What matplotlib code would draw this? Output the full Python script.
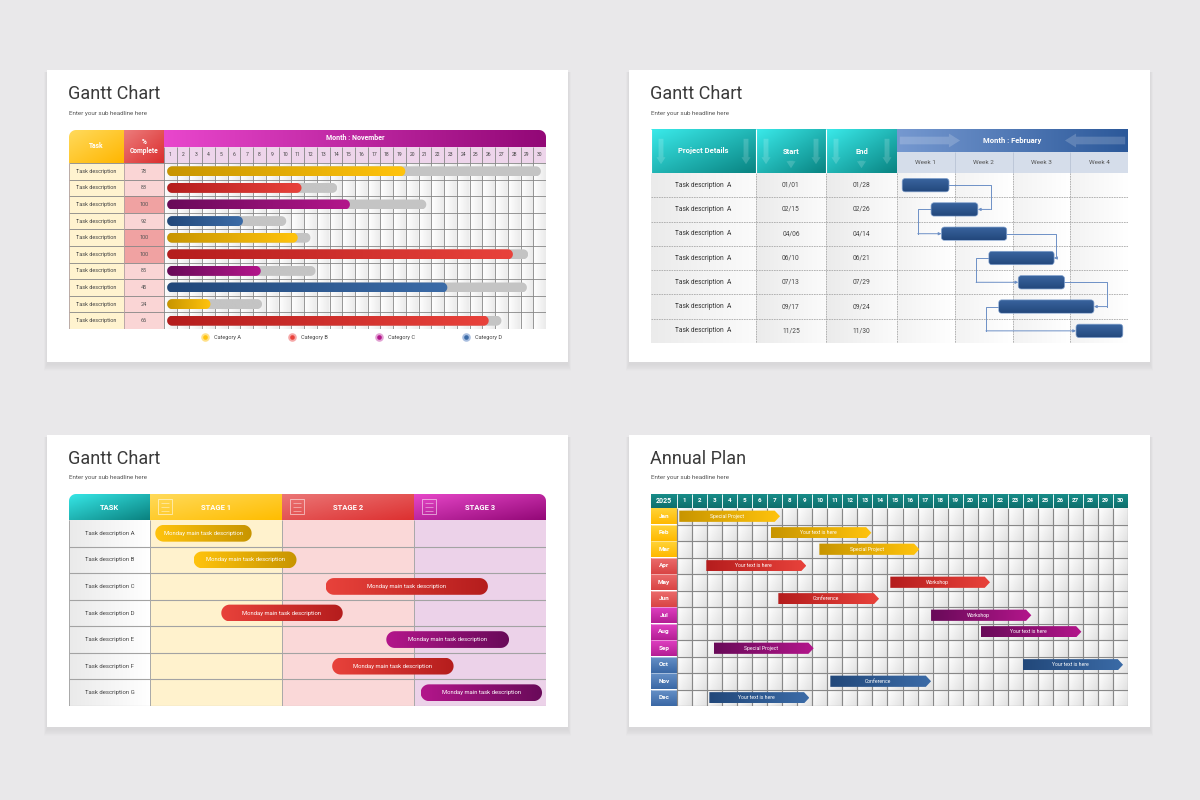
import numpy as np
import matplotlib.pyplot as plt
from matplotlib.colors import LinearSegmentedColormap
from matplotlib.patches import Polygon, Rectangle

plt.rcParams['font.family'] = ['Roboto', 'DejaVu Sans']

W, H = 1200, 800

titles = ['Gantt Chart', 'Gantt Chart', 'Gantt Chart', 'Annual Plan']
subtitle = 'Enter your sub headline here'

# panel 1 : november, % complete
p1_tasks = ['Task description'] * 10
p1_complete = [78, 83, 100, 92, 100, 100, 85, 45, 24, 66]
p1_cat = ['gold', 'red', 'purple', 'blue', 'gold', 'red', 'purple', 'blue', 'gold', 'red']
p1_start = [0.25] * 10
p1_done = [18.95, 10.8, 14.6, 6.2, 10.5, 27.4, 7.6, 22.25, 3.65, 25.5]
p1_end = [29.6, 13.6, 20.6, 9.6, 11.5, 28.6, 11.9, 28.5, 7.7, 26.5]
p1_days = list(range(1, 31))
p1_month = 'Month : November'
legend_names = ['Category A', 'Category B', 'Category C', 'Category D']
legend_cat = ['gold', 'red', 'purple', 'blue']

# panel 2 : february, weeks
p2_tasks = ['Task description  A'] * 7
p2_start_lbl = ['01/01', '02/15', '04/06', '06/10', '07/13', '09/17', '11/25']
p2_end_lbl = ['01/28', '02/26', '04/14', '06/21', '07/29', '09/24', '11/30']
p2_heads = ['Project Details', 'Start', 'End']
p2_weeks = ['Week 1', 'Week 2', 'Week 3', 'Week 4']
p2_month = 'Month : February'
p2_bar_start = [0.09, 0.59, 0.77, 1.59, 2.10, 1.76, 3.10]
p2_bar_end = [0.90, 1.40, 1.90, 2.72, 2.90, 3.41, 3.91]
p2_link_x = [1.62, 0.36, 2.75, 1.37, 3.64, 1.54]

# panel 3 : stages
p3_tasks = ['Task description ' + c for c in 'ABCDEFG']
p3_stages = ['STAGE 1', 'STAGE 2', 'STAGE 3']
p3_start = [0.04, 0.33, 1.33, 0.54, 1.79, 1.38, 2.05]
p3_end = [0.77, 1.11, 2.56, 1.46, 2.72, 2.30, 2.97]
p3_cat = ['gold', 'gold', 'red', 'red', 'purple', 'red', 'purple']
p3_label = 'Monday main task description'

# panel 4 : annual plan
p4_year = '2025'
p4_months = ['Jan', 'Feb', 'Mar', 'Apr', 'May', 'Jun', 'Jul', 'Aug', 'Sep', 'Oct', 'Nov', 'Dec']
p4_group = ['gold'] * 3 + ['red'] * 3 + ['purple'] * 3 + ['blue'] * 3
p4_start = [0.15, 6.25, 9.47, 1.95, 14.19, 6.74, 16.90, 20.22, 2.44, 22.99, 10.20, 2.15]
p4_end = [6.85, 12.93, 16.12, 8.60, 20.82, 13.44, 23.57, 26.90, 9.09, 29.67, 16.90, 8.80]
p4_text = ['Special Project', 'Your text is here', 'Special Project', 'Your text is here',
           'Workshop', 'Conference', 'Workshop', 'Your text is here', 'Special Project',
           'Your text is here', 'Conference', 'Your text is here']

# colours (dark, bright)
BAR = {'gold': ('#c89500', '#ffc30d'), 'red': ('#b51d1d', '#e8423b'),
       'purple': ('#690a59', '#b3168b'), 'blue': ('#22487a', '#3b6ba7')}
LIGHT = {'gold': '#ffe18a', 'red': '#f6a8a8', 'purple': '#e2a2d3', 'blue': '#aabfe0'}
CELL = {'gold': ('#ffd53c', '#ffb900'), 'red': ('#ec6e6e', '#d94444'),
        'purple': ('#e242c4', '#b41e94'), 'blue': ('#6892c9', '#3a68a5')}

fig = plt.figure(figsize=(12, 8), dpi=100)
fig.patch.set_facecolor('#e9e8ea')
bg = fig.add_axes([0, 0, 1, 1], zorder=0)
bg.set_xlim(0, W)
bg.set_ylim(H, 0)
bg.axis('off')


def px_axes(x0, y0, x1, y1):
    ax = fig.add_axes([x0 / W, 1 - y1 / H, (x1 - x0) / W, (y1 - y0) / H], zorder=1)
    ax.axis('off')
    return ax


def table_axes(left, top, right, bottom, x0px, y0px, nx, ny):
    ax = px_axes(left, top, right, bottom)
    ux = (right - x0px) / nx
    uy = (bottom - y0px) / ny
    ax.set_xlim((left - x0px) / ux, nx)
    ax.set_ylim(ny, (top - y0px) / uy)
    fx = lambda p: (p - x0px) / ux
    fy = lambda p: (p - y0px) / uy
    return ax, ux, uy, fx, fy


def rbox(x0, y0, x1, y1, rx=0, ry=0, corners=('tl', 'tr', 'br', 'bl')):
    rx = min(rx, (x1 - x0) / 2)
    ry = min(ry, (y1 - y0) / 2)
    t = np.linspace(0, np.pi / 2, 10)
    pts = []
    if 'tl' in corners and rx > 0:
        pts += list(zip(x0 + rx - rx * np.cos(t), y0 + ry - ry * np.sin(t)))
    else:
        pts.append((x0, y0))
    if 'tr' in corners and rx > 0:
        pts += list(zip(x1 - rx + rx * np.sin(t), y0 + ry - ry * np.cos(t)))
    else:
        pts.append((x1, y0))
    if 'br' in corners and rx > 0:
        pts += list(zip(x1 - rx + rx * np.cos(t), y1 - ry + ry * np.sin(t)))
    else:
        pts.append((x1, y1))
    if 'bl' in corners and rx > 0:
        pts += list(zip(x0 + rx - rx * np.sin(t), y1 - ry + ry * np.cos(t)))
    else:
        pts.append((x0, y1))
    return Polygon(pts, closed=True)


def gfill(ax, patch, c1, c2, x0, x1, y0, y1, mode='h', z=2):
    patch.set_facecolor('none')
    patch.set_edgecolor('none')
    patch.set_zorder(z)
    ax.add_patch(patch)
    cmap = LinearSegmentedColormap.from_list('g', [c1, c2])
    n = np.linspace(0, 1, 64)
    if mode == 'h':
        arr = n.reshape(1, -1)
    elif mode == 'v':
        arr = n.reshape(-1, 1)
    else:
        arr = (n.reshape(1, -1) + n.reshape(-1, 1)) / 2
    im = ax.imshow(arr, cmap=cmap, extent=(x0, x1, y1, y0), aspect='auto',
                   zorder=z, interpolation='bilinear')
    im.set_clip_path(patch)
    return im


def pill(ax, x0, x1, yc, h, ux, uy, c1, c2, z=3):
    r = h * uy / 2
    p = rbox(x0, yc - h / 2, x1, yc + h / 2, r / ux, h / 2)
    gfill(ax, p, c1, c2, x0, x1, yc - h / 2, yc + h / 2, z=z)


def hline(ax, y, xa, xb, **kw):
    ax.plot([xa, xb], [y, y], solid_capstyle='butt', **kw)


def vline(ax, x, ya, yb, **kw):
    ax.plot([x, x], [ya, yb], solid_capstyle='butt', **kw)


# cards with a soft shadow below
cards = [(47, 70, 568, 362), (629, 70, 1150, 362), (47, 435, 568, 727), (629, 435, 1150, 727)]
for (x0, y0, x1, y1), t in zip(cards, titles):
    for k in range(1, 9):
        bg.add_patch(Rectangle((x0 - k * 0.4, y0 + 2), x1 - x0 + k * 0.8, y1 - y0 + k * 0.9,
                               fc='black', alpha=0.008, lw=0))
    bg.add_patch(Rectangle((x0, y0), x1 - x0, y1 - y0, fc='white', lw=0))
    bg.text(x0 + 21, y0 + 24, t, fontsize=13, color='#3a3a3a', va='center', ha='left')
    bg.text(x0 + 22, y0 + 43, subtitle, fontsize=4.5, color='#555555', va='center', ha='left')

# ---------------- panel 1 ----------------
ax, ux, uy, fx, fy = table_axes(69, 130, 546, 329, 164, 163, 30, 10)
nrow = len(p1_tasks)
ytop, ymid = fy(130), fy(147)
xl, xm = fx(69), fx(124)
gfill(ax, rbox(xl, ytop, xm, 0, 7 / ux, 7 / uy, ('tl',)), '#ffda5c', '#ffb600', xl, xm, ytop, 0, 'd')
gfill(ax, rbox(xm, ytop, 0, 0), '#ec7c7c', '#db2e2e', xm, 0, ytop, 0, 'd')
gfill(ax, rbox(0, ytop, 30, ymid, 7 / ux, 7 / uy, ('tr',)), '#e846cc', '#930877', 0, 30, ytop, ymid)
ax.add_patch(Rectangle((0, ymid), 30, -ymid, fc='#eed5eb', lw=0, zorder=2))
ax.text((xl + xm) / 2, ytop / 2, 'Task', color='white', fontsize=4.8, fontweight='bold',
        ha='center', va='center', zorder=5)
ax.text(xm / 2, ytop / 2, '%\nComplete', color='white', fontsize=4.8, fontweight='bold',
        ha='center', va='center', linespacing=1.2, zorder=5)
ax.text(15, (ytop + ymid) / 2, p1_month, color='white', fontsize=5, fontweight='bold',
        ha='center', va='center', zorder=5)
for d in p1_days:
    ax.text(d - 0.5, ymid / 2, str(d), color='#444444', fontsize=3.6, ha='center', va='center', zorder=5)

ax.add_patch(Rectangle((xl, 0), xm - xl, nrow, fc='#fff3cf', lw=0, zorder=1))
shade = np.tile(np.linspace(0, 1, 16), 30).reshape(1, -1)
ax.imshow(shade, cmap=LinearSegmentedColormap.from_list('s', ['#ffffff', '#ebebeb']),
          extent=(0, 30, nrow, 0), aspect='auto', zorder=1)
for i, (task, pc) in enumerate(zip(p1_tasks, p1_complete)):
    ax.add_patch(Rectangle((xm, i), -xm, 1, fc='#f0a2a2' if pc == 100 else '#fad5d5', lw=0, zorder=1))
    ax.text((xl + xm) / 2, i + 0.5, task, fontsize=4, color='#444444', ha='center', va='center', zorder=5)
    ax.text(xm / 2, i + 0.5, str(pc), fontsize=4, color='#555555', ha='center', va='center', zorder=5)
for d in range(31):
    vline(ax, d, ymid, nrow, color='#868686', lw=0.6, zorder=2)
for r in range(nrow + 1):
    hline(ax, r, xl, 30, color='#868686', lw=0.6, zorder=2)
for x in (xl, xm):
    vline(ax, x, 0, nrow, color='#b0a0a0', lw=0.6, zorder=2)
for i in range(nrow):
    pill(ax, p1_start[i], p1_end[i], i + 0.5, 0.6, ux, uy, '#c4c4c4', '#c4c4c4', z=3)
    c1, c2 = BAR[p1_cat[i]]
    pill(ax, p1_start[i], p1_done[i], i + 0.5, 0.6, ux, uy, c1, c2, z=4)
for k, (name, c) in enumerate(zip(legend_names, legend_cat)):
    lx, ly = fx(205 + 87 * k), fy(337)
    ax.scatter([lx], [ly], s=38, color=LIGHT[c], lw=0, clip_on=False, zorder=5)
    ax.scatter([lx], [ly], s=11, color=BAR[c][1], lw=0, clip_on=False, zorder=6)
    ax.text(lx + 9 / ux, ly, name, fontsize=4, color='#444444', va='center', ha='left', clip_on=False)

# ---------------- panel 2 ----------------
ax, ux, uy, fx, fy = table_axes(651, 129, 1128, 343, 897, 173, 4, 7)
nrow = len(p2_tasks)
ytop, ymid = fy(129), fy(152)
cols = [fx(651), fx(756), fx(826), 0]
arrow_small = dict(arrowstyle='simple,head_width=0.65,head_length=0.5,tail_width=0.35',
                   fc='white', ec='none', alpha=0.17)
for k, head in enumerate(p2_heads):
    a, b = cols[k], cols[k + 1]
    gfill(ax, rbox(a, ytop, b, 0), '#3aeaea', '#098381', a, b, ytop, 0, 'd')
    for xa in (a + 10 / ux, b - 10 / ux):
        ax.annotate('', xy=(xa, fy(167)), xytext=(xa, fy(136)), arrowprops=arrow_small, zorder=3)
    if k > 0:
        ax.annotate('', xy=((a + b) / 2, fy(171)), xytext=((a + b) / 2, fy(158)),
                    arrowprops=arrow_small, zorder=3)
    ax.text((a + b) / 2, ytop / 2, head, color='white', fontsize=5.5, fontweight='bold',
            ha='center', va='center', zorder=5)
    vline(ax, a, ytop, 0, color='white', lw=0.8, zorder=4)
gfill(ax, rbox(0, ytop, 4, ymid), '#7598d0', '#2c599a', 0, 4, ytop, ymid)
arrow_big = dict(arrowstyle='simple,head_width=1.0,head_length=0.8,tail_width=0.55',
                 fc='white', ec='none', alpha=0.18)
ym = (ytop + ymid) / 2
ax.annotate('', xy=(1.14, ym), xytext=(0, ym), arrowprops=arrow_big, zorder=3)
ax.annotate('', xy=(2.86, ym), xytext=(4, ym), arrowprops=arrow_big, zorder=3)
ax.text(2, ym, p2_month, color='white', fontsize=5.5, fontweight='bold', ha='center', va='center', zorder=5)
ax.add_patch(Rectangle((0, ymid), 4, -ymid, fc='#d5ddea', lw=0, zorder=2))
for k, w in enumerate(p2_weeks):
    ax.text(k + 0.5, ymid / 2, w, color='#555555', fontsize=4.6, ha='center', va='center', zorder=5)
    if k > 0:
        vline(ax, k, ymid, 0, color='#b9c3d5', lw=0.6, zorder=3)
for k in range(3):
    a, b = cols[k], cols[k + 1]
    gfill(ax, rbox(a, 0, b, nrow), '#ebebeb', '#fbfbfb', a, b, 0, nrow, z=1)
for k in range(4):
    gfill(ax, rbox(k, 0, k + 1, nrow), '#f3f3f3', '#ffffff', k, k + 1, 0, nrow, z=1)
dash = dict(color='#a9a9a9', lw=0.6, ls=(0, (2, 1)), zorder=2)
for r in range(1, nrow + 1):
    hline(ax, r, cols[0], 4, **dash)
for x in cols[1:] + [1, 2, 3, 4]:
    vline(ax, x, 0, nrow, **dash)
for i in range(nrow):
    ax.text((cols[0] + cols[1]) / 2, i + 0.5, p2_tasks[i], fontsize=4.8, color='#333333',
            ha='center', va='center', zorder=5)
    ax.text((cols[1] + cols[2]) / 2, i + 0.5, p2_start_lbl[i], fontsize=4.8, color='#444444',
            ha='center', va='center', zorder=5)
    ax.text((cols[2] + cols[3]) / 2, i + 0.5, p2_end_lbl[i], fontsize=4.8, color='#444444',
            ha='center', va='center', zorder=5)
    h = 0.55
    p = rbox(p2_bar_start[i], i + 0.5 - h / 2, p2_bar_end[i], i + 0.5 + h / 2, 3 / ux, 3 / uy)
    gfill(ax, p, '#3a65a0', '#23487c', p2_bar_start[i], p2_bar_end[i], i + 0.5 - h / 2, i + 0.5 + h / 2,
          'v', z=4)
    ax.add_patch(rbox(p2_bar_start[i], i + 0.5 - h / 2, p2_bar_end[i], i + 0.5 + h / 2, 3 / ux, 3 / uy))
    ax.patches[-1].set(fc='none', ec='#7f9fcc', lw=0.5, zorder=4.5)
link = dict(color='#6d90c6', lw=0.7, zorder=3.5)
for i, lx in enumerate(p2_link_x):
    if i % 2 == 0:
        xa, xb = p2_bar_end[i], p2_bar_end[i + 1]
    else:
        xa, xb = p2_bar_start[i], p2_bar_start[i + 1]
    ax.plot([xa, lx, lx], [i + 0.5, i + 0.5, i + 1.5], **link)
    ax.annotate('', xy=(xb, i + 1.5), xytext=(lx, i + 1.5),
                arrowprops=dict(arrowstyle='-|>', color='#6d90c6', lw=0.7, mutation_scale=4,
                                shrinkA=0, shrinkB=0), zorder=3.5)

# ---------------- panel 3 ----------------
ax, ux, uy, fx, fy = table_axes(69, 494, 546, 706, 150, 520, 3, 7)
nrow = len(p3_tasks)
ytop, xl = fy(494), fx(69)
gfill(ax, rbox(xl, ytop, 0, 0, 7 / ux, 7 / uy, ('tl',)), '#36e6e6', '#0a817f', xl, 0, ytop, 0, 'd')
ax.text(xl / 2, ytop / 2, 'TASK', color='white', fontsize=5.5, fontweight='bold',
        ha='center', va='center', zorder=5)
stage_head = [('#ffda5a', '#ffbd00'), ('#eb7676', '#dd3030'), ('#e646c8', '#930877')]
stage_body = ['#fff2cd', '#fad8d8', '#ecd2e9']
for k, st in enumerate(p3_stages):
    corners = ('tr',) if k == 2 else ()
    gfill(ax, rbox(k, ytop, k + 1, 0, 7 / ux, 7 / uy, corners), stage_head[k][0], stage_head[k][1],
          k, k + 1, ytop, 0, 'd')
    ax.add_patch(Rectangle((k, 0), 1, nrow, fc=stage_body[k], lw=0, zorder=1))
    ax.text(k + 0.5, ytop / 2, st, color='white', fontsize=5.5, fontweight='bold',
            ha='center', va='center', zorder=5)
    # small outline icon
    ix, iy = k + 8 / ux, fy(499)
    ax.add_patch(Rectangle((ix, iy), 14 / ux, 15 / uy, fc='none', ec='white', lw=0.5, alpha=0.75, zorder=5))
    for j in range(3):
        hline(ax, iy + (4 + 4 * j) / uy, ix + 3 / ux, ix + 11 / ux, color='white', lw=0.4, alpha=0.75, zorder=5)
gfill(ax, rbox(xl, 0, 0, nrow), '#eaeaea', '#ffffff', xl, 0, 0, nrow, z=1)
for r in range(1, nrow + 1):
    hline(ax, r, xl, 3, color='#a3a3a3', lw=0.8, zorder=2)
for x in (xl, 0, 1, 2, 3):
    vline(ax, x, 0, nrow, color='#a8a8a8', lw=0.7, zorder=2)
for i in range(nrow):
    ax.text(xl / 2, i + 0.5, p3_tasks[i], fontsize=4.3, color='#444444', ha='center', va='center', zorder=5)
    c1, c2 = BAR[p3_cat[i]]
    pill(ax, p3_start[i], p3_end[i], i + 0.5, 0.63, ux, uy, c2, c1, z=3)
    ax.text((p3_start[i] + p3_end[i]) / 2, i + 0.5, p3_label, fontsize=4.2, color='white',
            ha='center', va='center', zorder=5)

# ---------------- panel 4 ----------------
ax, ux, uy, fx, fy = table_axes(651, 494, 1128, 706, 677, 508, 30, 12)
nrow = len(p4_months)
ytop, xl = fy(494), fx(651)
gfill(ax, rbox(xl, ytop, 30, 0), '#178c88', '#0f6f6d', xl, 30, ytop, 0, 'v')
ax.text(xl / 2, ytop / 2, p4_year, color='white', fontsize=5, fontweight='bold',
        ha='center', va='center', zorder=5)
for d in range(1, 31):
    ax.text(d - 0.5, ytop / 2, str(d), color='white', fontsize=4.5, fontweight='bold',
            ha='center', va='center', zorder=5)
for d in range(0, 30):
    vline(ax, d, ytop, 0, color='#e8f4f4', lw=0.7, zorder=3)
cell = np.tile(np.linspace(0, 1, 12), 30)[None, :] * 0.65 + \
    np.tile(np.linspace(0, 1, 10), nrow)[:, None] * 0.35
ax.imshow(cell, cmap=LinearSegmentedColormap.from_list('s', ['#ffffff', '#e2e2e2']),
          extent=(0, 30, nrow, 0), aspect='auto', zorder=1)
for i, (m, g) in enumerate(zip(p4_months, p4_group)):
    gfill(ax, rbox(xl, i, 0, i + 1), CELL[g][0], CELL[g][1], xl, 0, i, i + 1, 'v', z=1)
    ax.text(xl / 2, i + 0.5, m, color='white', fontsize=4.6, fontweight='bold',
            ha='center', va='center', zorder=5)
    if i > 0:
        hline(ax, i, xl, 0, color='white', lw=0.5, alpha=0.6, zorder=2)
for d in range(31):
    vline(ax, d, 0, nrow, color='#888888', lw=0.85, zorder=2)
for r in range(1, nrow + 1):
    hline(ax, r, 0, 30, color='#888888', lw=0.85, zorder=2)
tip, h = 0.35, 0.68
for i in range(nrow):
    x0, x1, yc = p4_start[i], p4_end[i], i + 0.5
    poly = Polygon([(x0, yc - h / 2), (x1 - tip, yc - h / 2), (x1, yc), (x1 - tip, yc + h / 2),
                    (x0, yc + h / 2)], closed=True)
    c1, c2 = BAR[p4_group[i]]
    gfill(ax, poly, c1, c2, x0, x1, yc - h / 2, yc + h / 2, z=3)
    ax.text((x0 + x1 - tip) / 2, yc, p4_text[i], color='white', fontsize=3.7,
            ha='center', va='center', zorder=5)

fig.savefig('out.png', dpi=100, facecolor=fig.get_facecolor())
